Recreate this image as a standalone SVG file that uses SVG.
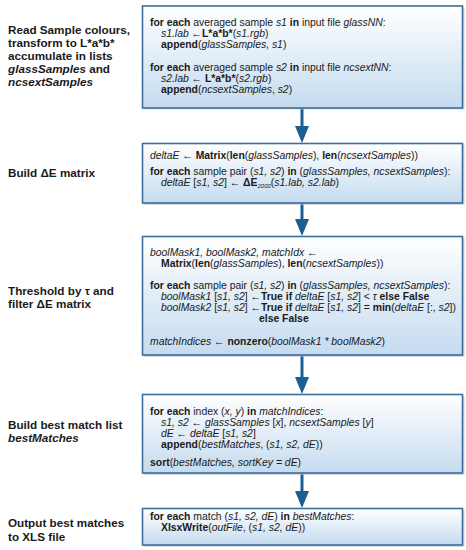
<svg xmlns="http://www.w3.org/2000/svg" width="466" height="550" viewBox="0 0 466 550">
<defs>
<linearGradient id="g" x1="0" y1="0" x2="0" y2="1">
<stop offset="0" stop-color="#ffffff"/>
<stop offset="1" stop-color="#c4dbef"/>
</linearGradient>
<marker id="ah" markerWidth="17" markerHeight="14" refX="0.5" refY="7" orient="auto" markerUnits="userSpaceOnUse" viewBox="0 0 17 14">
<path d="M0,0 L17,7 L0,14 Z" fill="#1b5e92"/>
</marker>
</defs>
<style>
.box{fill:url(#g);stroke:#3c6d9c;stroke-width:1.6}
.sh{fill:#b8bfc8;opacity:0.6}
.lbl{font-family:"Liberation Sans",Arial,sans-serif;font-size:11.7px;font-weight:bold;fill:#1a1a1a}
.code{font-family:"Liberation Sans",Arial,sans-serif;font-size:10.4px;fill:#1a1a1a}
.b{font-weight:bold}
.i{font-style:italic}
.con{stroke:#1b5e92;stroke-width:3;fill:none}
.sub{font-size:6px}
</style>
<rect width="466" height="550" fill="#ffffff"/>
<g id="connectors">
<line class="con" x1="302" y1="108" x2="302" y2="126.5" marker-end="url(#ah)"/>
<line class="con" x1="302" y1="203" x2="302" y2="219.5" marker-end="url(#ah)"/>
<line class="con" x1="302" y1="355" x2="302" y2="377.5" marker-end="url(#ah)"/>
<line class="con" x1="302" y1="473" x2="302" y2="491.5" marker-end="url(#ah)"/>
</g>
<g id="node1">
<rect class="sh" x="144.5" y="7.5" width="320" height="102"/>
<rect class="box" x="142.5" y="6" width="320" height="102"/>
<text class="lbl" x="8" y="34">Read Sample colours,</text>
<text class="lbl" x="8" y="47">transform to L*a*b*</text>
<text class="lbl" x="8" y="60">accumulate in lists</text>
<text class="lbl" x="8" y="73"><tspan class="i">glassSamples</tspan> and</text>
<text class="lbl i" x="8" y="86">ncsextSamples</text>
<text class="code" x="150" y="26"><tspan class="b">for each</tspan> averaged sample <tspan class="i">s1</tspan> <tspan class="b">in</tspan> input file <tspan class="i">glassNN</tspan>:</text>
<text class="code" x="161" y="37"><tspan class="i">s1.lab</tspan> ←<tspan class="b">L*a*b*</tspan>(<tspan class="i">s1.rgb</tspan>)</text>
<text class="code" x="161" y="48"><tspan class="b">append</tspan>(<tspan class="i">glassSamples</tspan>, <tspan class="i">s1</tspan>)</text>
<text class="code" x="150" y="71"><tspan class="b">for each</tspan> averaged sample <tspan class="i">s2</tspan> <tspan class="b">in</tspan> input file <tspan class="i">ncsextNN</tspan>:</text>
<text class="code" x="161" y="82"><tspan class="i">s2.lab</tspan> ← <tspan class="b">L*a*b*</tspan>(<tspan class="i">s2.rgb</tspan>)</text>
<text class="code" x="161" y="93"><tspan class="b">append</tspan>(<tspan class="i">ncsextSamples</tspan>, <tspan class="i">s2</tspan>)</text>
</g>
<g id="node2">
<rect class="sh" x="144.5" y="145" width="320" height="60"/>
<rect class="box" x="142.5" y="143.5" width="320" height="59.5"/>
<text class="lbl" x="8" y="177">Build ΔE matrix</text>
<text class="code" x="150" y="159"><tspan class="i">deltaE</tspan> ← <tspan class="b">Matrix</tspan>(<tspan class="b">len</tspan>(<tspan class="i">glassSamples</tspan>), <tspan class="b">len</tspan>(<tspan class="i">ncsextSamples</tspan>))</text>
<text class="code" x="150" y="175"><tspan class="b">for each</tspan> sample pair (<tspan class="i">s1, s2</tspan>) <tspan class="b">in</tspan> (<tspan class="i">glassSamples, ncsextSamples</tspan>):</text>
<text class="code" x="161" y="186"><tspan class="i">deltaE</tspan> [<tspan class="i">s1, s2</tspan>] ← <tspan class="b">ΔE</tspan><tspan class="sub i" dy="2">2000</tspan><tspan dy="-2">(</tspan><tspan class="i">s1.lab, s2.lab</tspan>)</text>
</g>
<g id="node3">
<rect class="sh" x="144.5" y="238" width="320" height="119"/>
<rect class="box" x="142.5" y="236.5" width="320" height="118.5"/>
<text class="lbl" x="8" y="295">Threshold by τ and</text>
<text class="lbl" x="8" y="308">filter ΔE matrix</text>
<text class="code" x="150" y="256"><tspan class="i">boolMask1, boolMask2, matchIdx</tspan> ←</text>
<text class="code" x="161" y="267"><tspan class="b">Matrix</tspan>(<tspan class="b">len</tspan>(<tspan class="i">glassSamples</tspan>), <tspan class="b">len</tspan>(<tspan class="i">ncsextSamples</tspan>))</text>
<text class="code" x="150" y="289"><tspan class="b">for each</tspan> sample pair (<tspan class="i">s1, s2</tspan>) <tspan class="b">in</tspan> (<tspan class="i">glassSamples, ncsextSamples</tspan>):</text>
<text class="code" x="161" y="300"><tspan class="i">boolMask1</tspan> [<tspan class="i">s1, s2</tspan>] ←<tspan class="b">True if</tspan> <tspan class="i">deltaE</tspan> [<tspan class="i">s1, s2</tspan>] &lt; <tspan class="i">τ</tspan> <tspan class="b">else False</tspan></text>
<text class="code" x="161" y="311"><tspan class="i">boolMask2</tspan> [<tspan class="i">s1, s2</tspan>] ←<tspan class="b">True if</tspan> <tspan class="i">deltaE</tspan> [<tspan class="i">s1, s2</tspan>] = <tspan class="b">min</tspan>(<tspan class="i">deltaE</tspan> [:, <tspan class="i">s2</tspan>])</text>
<text class="code b" x="259" y="322">else False</text>
<text class="code" x="150" y="345"><tspan class="i">matchIndices</tspan> ← <tspan class="b">nonzero</tspan>(<tspan class="i">boolMask1 * boolMask2</tspan>)</text>
</g>
<g id="node4">
<rect class="sh" x="144.5" y="396" width="320" height="79"/>
<rect class="box" x="142.5" y="394.5" width="320" height="78.5"/>
<text class="lbl" x="8" y="429">Build best match list</text>
<text class="lbl i" x="8" y="442">bestMatches</text>
<text class="code" x="150" y="415"><tspan class="b">for each</tspan> index (<tspan class="i">x, y</tspan>) <tspan class="b">in</tspan> <tspan class="i">matchIndices</tspan>:</text>
<text class="code" x="161" y="426"><tspan class="i">s1, s2</tspan> ← <tspan class="i">glassSamples</tspan> [<tspan class="i">x</tspan>], <tspan class="i">ncsextSamples</tspan> [<tspan class="i">y</tspan>]</text>
<text class="code" x="161" y="437"><tspan class="i">dE</tspan> ← <tspan class="i">deltaE</tspan> [<tspan class="i">s1, s2</tspan>]</text>
<text class="code" x="161" y="448"><tspan class="b">append</tspan>(<tspan class="i">bestMatches</tspan>, (<tspan class="i">s1, s2, dE</tspan>))</text>
<text class="code" x="150" y="466"><tspan class="b">sort</tspan>(<tspan class="i">bestMatches, sortKey = dE</tspan>)</text>
</g>
<g id="node5">
<rect class="sh" x="144.5" y="510" width="320" height="37"/>
<rect class="box" x="142.5" y="508.5" width="320" height="36.5"/>
<text class="lbl" x="8" y="527">Output best matches</text>
<text class="lbl" x="8" y="541">to XLS file</text>
<text class="code" x="150" y="520"><tspan class="b">for each</tspan> match (<tspan class="i">s1, s2, dE</tspan>) <tspan class="b">in</tspan> <tspan class="i">bestMatches</tspan>:</text>
<text class="code" x="161" y="531"><tspan class="b">XlsxWrite</tspan>(<tspan class="i">outFile</tspan>, (<tspan class="i">s1, s2, dE</tspan>))</text>
</g>
</svg>
